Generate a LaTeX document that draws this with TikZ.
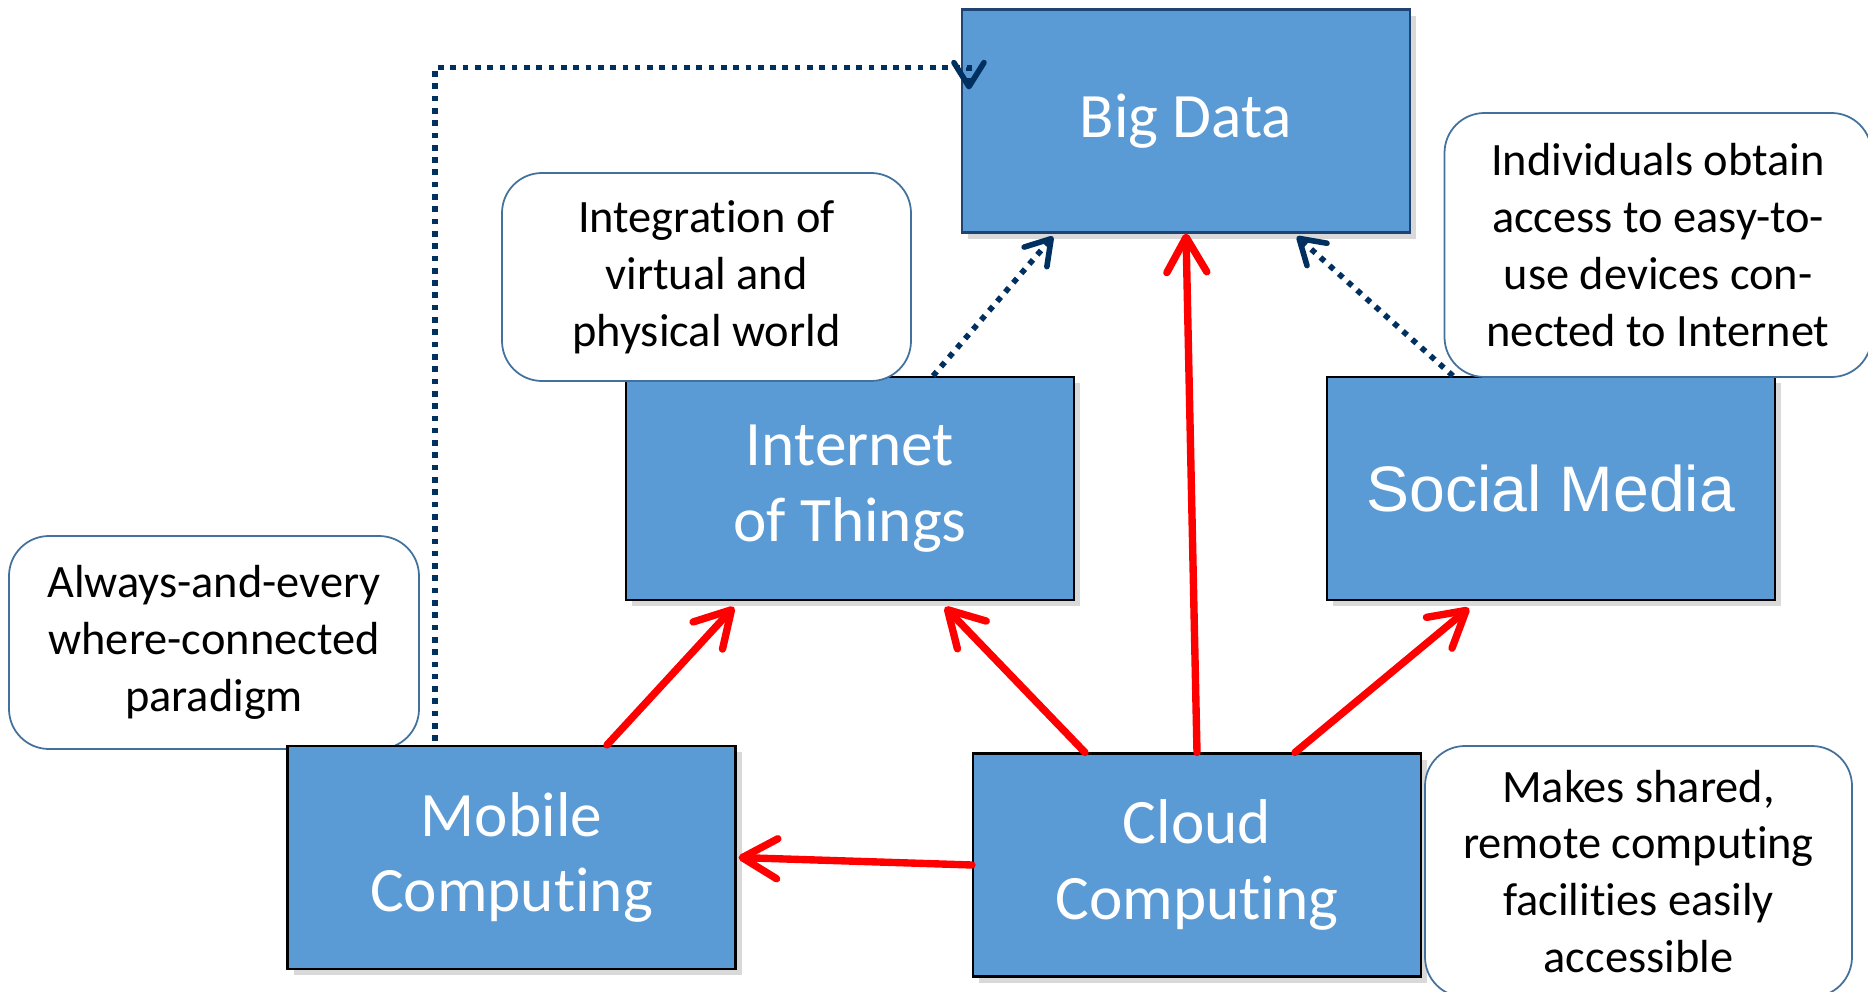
\documentclass[tikz,border=0pt]{standalone}
\usepackage{fontspec}
\setmainfont{Carlito}[Ligatures = NoCommon]
\newfontfamily\arialfont{Liberation Sans}
\usetikzlibrary{arrows.meta, shadows}

\definecolor{boxblue}{RGB}{91,155,213}
\definecolor{bigborder}{RGB}{31,68,116}
\definecolor{noteborder}{RGB}{65,113,156}
\definecolor{dotblue}{RGB}{0,48,96}

\begin{document}
\begin{tikzpicture}[x = 0.1mm, y = -0.1mm,
		block/.style = {draw = black, line width = 0.6pt, fill = boxblue, text = white,
			minimum width = 44.8mm, minimum height = 22.3mm, inner sep = 0pt, align = center,
			font = \fontsize{18}{21.6}\selectfont,
			drop shadow = {shadow xshift = 0.6mm, shadow yshift = -0.6mm, opacity = 0.3}},
		note/.style = {draw = noteborder, line width = 0.5pt, fill = white, rounded corners = 4mm,
			inner sep = 0pt, align = center, font = \fontsize{13.2}{16.2}\selectfont},
		feed/.style = {draw = red, line width = 2.1pt, line cap = round,
			-{Straight Barb[length = 3.5mm, width = 4mm, line cap = round, line join = round]}},
		link/.style = {draw = dotblue, line width = 1.6pt, dash pattern = on 1.6pt off 1.9pt,
			-{Straight Barb[length = 2.4mm, width = 3mm, line cap = round, line join = round]}}]
		\useasboundingbox (0,0) rectangle (1868,992);

		\node (mobnote) at (214,642.5) [note, minimum width = 41mm, minimum height = 21.3mm]
			{Always-and-every\\where-connected\\paradigm};

		\node (bigdata) at (1186,121) [block, draw = bigborder] {Big Data};
		\node (iot) at (850,488.5) [block] {Internet\\of Things};
		\node (social) at (1551,488.5) [block, font = \arialfont\fontsize{18.3}{22}\selectfont] {Social Media};
		\node (mobile) at (511.5,857.5) [block] {Mobile\\Computing};
		\node (cloud) at (1197,865) [block] {Cloud\\Computing};

		\node (iotnote) at (706.5,277) [note, minimum width = 40.9mm, minimum height = 20.8mm]
			{Integration of\\virtual and\\physical world};
		\node (socnote) at (1658,245) [note, minimum width = 42.7mm, minimum height = 26.4mm]
			{Individuals obtain\\access to easy-to-\\use devices con-\\nected to Internet};
		\node (cldnote) at (1638.5,871.5) [note, minimum width = 42.7mm, minimum height = 25.1mm]
			{Makes shared,\\remote computing\\facilities easily\\accessible};

		\draw [feed] ([xshift = 9.55mm]mobile.north) -- ([xshift = -11.6mm, yshift = -0.6mm]iot.south);
		\draw [feed] ([xshift = -11.2mm]cloud.north) -- ([xshift = 9.5mm, yshift = -0.6mm]iot.south);
		\draw [feed] (cloud.north) -- (bigdata.south);
		\draw [feed] ([xshift = 9.8mm]cloud.north) -- ([xshift = -8.2mm, yshift = -0.7mm]social.south);
		\draw [feed] (cloud.west) -- ([xshift = 0.2mm]mobile.east);

		\draw [link] ([xshift = 8.3mm]iot.north) -- ([xshift = -13.3mm, yshift = -0.3mm]bigdata.south);
		\draw [link] ([xshift = -9.8mm]social.north) -- ([xshift = 11.1mm, yshift = -0.3mm]bigdata.south);
		\draw [link] ([xshift = -7.65mm, yshift = 0.4mm]mobile.north)
			|- ([xshift = 0.8mm, yshift = -5.9mm]bigdata.north west)
			-- ([xshift = 0.8mm, yshift = -8.1mm]bigdata.north west);
\end{tikzpicture}
\end{document}
